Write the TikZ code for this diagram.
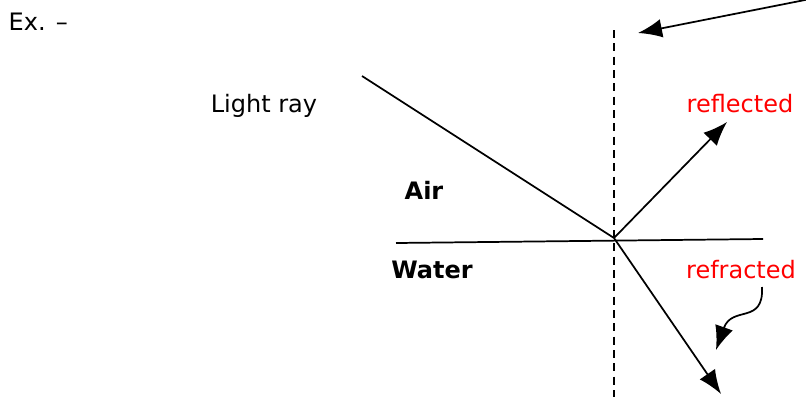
\documentclass[tikz,border=0pt]{standalone}
\usepackage{fontspec}
\setmainfont{DejaVu Sans}
\usetikzlibrary{arrows.meta}
\tikzset{
  rayline/.style={line width=1.3pt},
  rayarrow/.style={-{Latex[length=18pt,width=14pt]},line width=1.3pt},
  normalline/.style={dash pattern=on 6pt off 4pt,line width=1.3pt},
  redlabel/.style={text=red},
  every picture/.style={font=\fontsize{18}{20}\selectfont}
}
\begin{document}
\begin{tikzpicture}[x=0.75pt,y=-0.75pt]
  \useasboundingbox (0,0) rectangle (806,397);
  \coordinate (O) at (614,238);
  \coordinate (inc) at (362,76);
  \coordinate (surfL) at (396,243);
  \coordinate (surfR) at (763,239);
  \coordinate (reflEnd) at (727,122);
  \coordinate (refrEnd) at (721,394);
  \coordinate (normTop) at (614,30);
  \coordinate (normBot) at (614,397);
  \node[anchor=west] (ex) at (4,22) {Ex. --};
  \node (light) at (264,106) {Light ray};
  \node[font=\fontsize{18}{20}\selectfont\bfseries] (air) at (424,190) {Air};
  \node[font=\fontsize{18}{20}\selectfont\bfseries] (water) at (432,270) {Water};
  \node[redlabel] (refl) at (740,104) {reflected};
  \node[redlabel] (refr) at (741,270) {refracted};
  \coordinate (pointer) at (810,-1);
  \coordinate (pointerTip) at (638,33);
  \coordinate (curlStart) at (762,287);
  \coordinate (curlTip) at (716,350);
  \draw[normalline] (normTop)--(normBot);
  \draw[rayline] (inc)--(O);
  \draw[rayline] (surfL)--(surfR);
  \draw[rayarrow] (O)--(reflEnd);
  \draw[rayarrow] (O)--(refrEnd);
  \draw[rayarrow] (pointer)--(pointerTip);
  \draw[rayarrow] (curlStart) .. controls (764,325) and (732,305) .. (curlTip);
\end{tikzpicture}
\end{document}
